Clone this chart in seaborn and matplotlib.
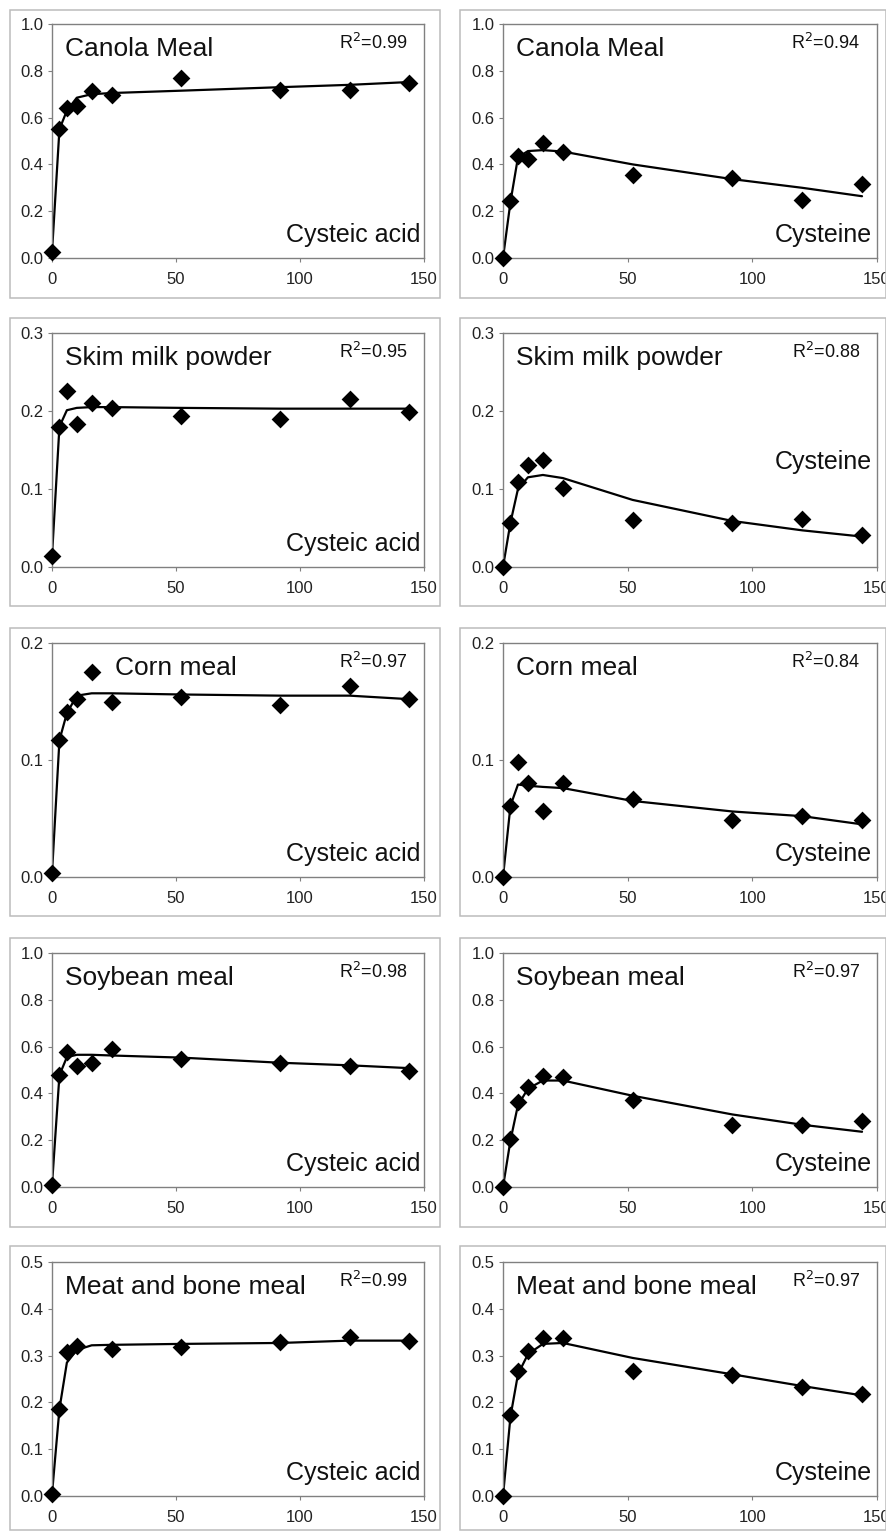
import matplotlib
matplotlib.use("Agg")
import matplotlib.pyplot as plt
import numpy as np
import pandas as pd
import seaborn as sns
from matplotlib.patches import Rectangle
from matplotlib.ticker import FormatStrFormatter, MultipleLocator

nan = np.nan

hours = [0, 3, 6, 10, 16, 24, 52, 92, 120, 144]

materials = ["Canola Meal", "Skim milk powder", "Corn meal", "Soybean meal", "Meat and bone meal"]
forms = ["Cysteic acid", "Cysteine"]

# measured points
canola_ca = [0.025, 0.55, 0.64, 0.65, 0.715, 0.695, 0.77, 0.72, 0.72, 0.75]
canola_cys = [0.0, 0.243, 0.436, 0.424, 0.49, 0.453, 0.353, 0.34, 0.25, 0.317]
skim_ca = [0.014, 0.18, 0.226, 0.183, 0.21, 0.204, 0.193, 0.19, 0.216, 0.199]
skim_cys = [0.0, 0.057, 0.109, 0.131, 0.137, 0.101, 0.06, 0.057, 0.062, 0.041]
corn_ca = [0.003, 0.117, 0.141, 0.152, 0.175, 0.150, 0.154, 0.147, 0.163, 0.152]
corn_cys = [0.0, 0.061, 0.098, 0.080, 0.056, 0.080, 0.067, 0.049, 0.052, 0.049]
soy_ca = [0.008, 0.478, 0.578, 0.515, 0.532, 0.589, 0.549, 0.529, 0.515, 0.495]
soy_cys = [0.0, 0.207, 0.363, 0.427, 0.473, 0.47, 0.373, 0.264, 0.264, 0.281]
mbm_ca = [0.004, 0.186, 0.308, 0.321, nan, 0.314, 0.318, 0.328, 0.34, 0.331]
mbm_cys = [0.0, 0.173, 0.268, 0.309, 0.337, 0.337, 0.268, 0.259, 0.232, 0.218]

# fitted model curves
canola_ca_fit = [0.025, 0.55, 0.63, 0.685, 0.70, 0.705, 0.715, 0.73, 0.74, 0.752]
canola_cys_fit = [0.0, 0.24, 0.43, 0.457, 0.461, 0.455, 0.40, 0.337, 0.30, 0.264]
skim_ca_fit = [0.014, 0.18, 0.201, 0.204, 0.205, 0.205, 0.204, 0.203, 0.203, 0.203]
skim_cys_fit = [0.0, 0.057, 0.10, 0.115, 0.118, 0.114, 0.086, 0.059, 0.047, 0.039]
corn_ca_fit = [0.003, 0.117, 0.140, 0.155, 0.157, 0.157, 0.156, 0.155, 0.155, 0.152]
corn_cys_fit = [0.0, 0.061, 0.079, 0.078, 0.077, 0.076, 0.065, 0.056, 0.052, 0.045]
soy_ca_fit = [0.008, 0.478, 0.555, 0.565, 0.565, 0.562, 0.553, 0.531, 0.52, 0.508]
soy_cys_fit = [0.0, 0.2, 0.35, 0.42, 0.455, 0.455, 0.39, 0.31, 0.266, 0.236]
mbm_ca_fit = [0.004, 0.186, 0.285, 0.312, 0.322, 0.323, 0.325, 0.327, 0.332, 0.332]
mbm_cys_fit = [0.0, 0.17, 0.26, 0.303, 0.325, 0.327, 0.295, 0.26, 0.235, 0.215]

r2_ca = ["0.99", "0.95", "0.97", "0.98", "0.99"]
r2_cys = ["0.94", "0.88", "0.84", "0.97", "0.97"]
y_max = [1.0, 0.3, 0.2, 1.0, 0.5]
y_step = [0.2, 0.1, 0.1, 0.2, 0.1]

observed = [[canola_ca, canola_cys], [skim_ca, skim_cys], [corn_ca, corn_cys],
            [soy_ca, soy_cys], [mbm_ca, mbm_cys]]
fitted = [[canola_ca_fit, canola_cys_fit], [skim_ca_fit, skim_cys_fit],
          [corn_ca_fit, corn_cys_fit], [soy_ca_fit, soy_cys_fit], [mbm_ca_fit, mbm_cys_fit]]
r2 = [r2_ca, r2_cys]

sns.set_theme(style="white")
plt.rcParams["font.family"] = ["Liberation Sans", "DejaVu Sans"]

W, H = 887, 1531
fig = plt.figure(figsize=(W / 100, H / 100), dpi=100)
fig.patch.set_facecolor("white")

ax_left = [52, 503]
ax_width = [372, 374]
ax_top = [24, 333, 643, 953, 1262]
ax_height = 234
frame_left = [10, 460]
frame_right = [440, 886]
frame_top = [10, 318, 628, 938, 1246]
frame_bottom = [298, 606, 916, 1227, 1530]

title_x = {(2, 0): 0.17}
label_y = {(1, 1): 0.42}

for r, material in enumerate(materials):
    for c, form in enumerate(forms):
        fx0, fx1 = frame_left[c], frame_right[c]
        fy0, fy1 = frame_top[r], frame_bottom[r]
        fig.add_artist(Rectangle((fx0 / W, 1 - fy1 / H), (fx1 - fx0) / W, (fy1 - fy0) / H,
                                 transform=fig.transFigure, fill=False,
                                 edgecolor="#bcbcbc", linewidth=1.1))

        ax = fig.add_axes([ax_left[c] / W, 1 - (ax_top[r] + ax_height) / H,
                           ax_width[c] / W, ax_height / H])
        df_obs = pd.DataFrame({"hours": hours, "value": observed[r][c]}).dropna()
        df_fit = pd.DataFrame({"hours": hours, "value": fitted[r][c]})

        sns.lineplot(data=df_fit, x="hours", y="value", ax=ax, color="black",
                     linewidth=1.6, legend=False)
        sns.scatterplot(data=df_obs, x="hours", y="value", ax=ax, marker="D",
                        s=82, color="black", edgecolor="black", linewidth=0,
                        legend=False, clip_on=False, zorder=5)

        ax.set_xlim(0, 150)
        ax.set_ylim(0, y_max[r])
        ax.xaxis.set_major_locator(MultipleLocator(50))
        ax.yaxis.set_major_locator(MultipleLocator(y_step[r]))
        ax.yaxis.set_major_formatter(FormatStrFormatter("%.1f"))
        ax.set_xlabel("")
        ax.set_ylabel("")
        for sp in ax.spines.values():
            sp.set_color("#808080")
            sp.set_linewidth(1.0)
        ax.tick_params(axis="both", which="major", direction="out", length=3,
                       width=0.8, color="#808080", labelsize=12, labelcolor="#222222")
        ax.tick_params(axis="y", pad=3)
        ax.tick_params(axis="x", pad=7)
        ax.tick_params(left=True, bottom=True)

        ax.text(title_x.get((r, c), 0.036), 0.863, material, transform=ax.transAxes,
                fontsize=19, va="baseline", ha="left", color="#111111")
        ax.text(0.955, 0.895, "R$^2$=" + r2[c][r], transform=ax.transAxes,
                fontsize=13, va="baseline", ha="right", color="#111111")
        ax.text(0.99 if c == 0 else 0.985, label_y.get((r, c), 0.067), form,
                transform=ax.transAxes, fontsize=18, va="baseline", ha="right",
                color="#111111")

fig.savefig("out.png", dpi=100)
